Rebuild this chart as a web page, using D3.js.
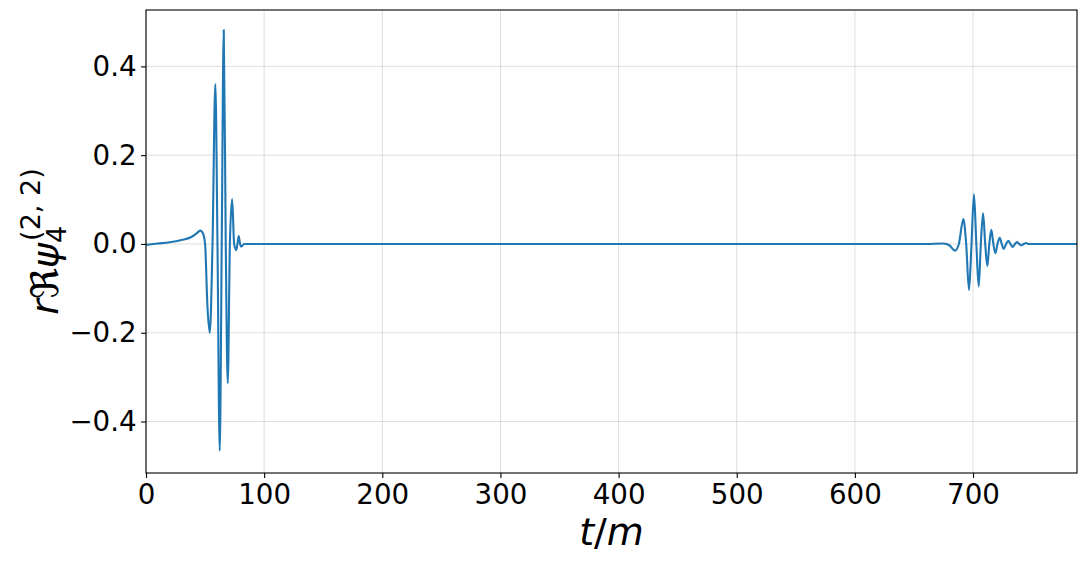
<!DOCTYPE html>
<html><head><meta charset="utf-8">
<script src="https://cdn.jsdelivr.net/npm/d3@7"></script>
<style>body{margin:0;background:#fff}svg{display:block}text{font-family:"DejaVu Sans",sans-serif}</style>
</head><body>
<svg id="c" width="1086" height="563"></svg>
<script>
// Data: t/m samples and r Re psi4 (2,2) values
const tValues = [0,10,20,30,38,42,46,48,50,52,54,56.3,58.7,60.5,62.4,64.1,65.8,67.5,69.2,71.0,72.9,74.6,76.3,77.4,78.5,79.6,80.8,83,
  660,675,680,684.7,688,691.8,694.2,696.6,698.7,700.8,702.8,704.8,706.6,708.5,710.3,712.1,713.8,715.5,717.2,718.9,720.7,722.6,724.3,726,728,729.9,731.7,733.6,735.5,737.3,739,740.7,742.8,744.9,747,788];
const psiValues = [-0.002,0.001,0.004,0.009,0.015,0.022,0.030,0.025,0.0,-0.14,-0.200,0,0.36,0,-0.466,0,0.482,0,-0.314,0,0.101,0,-0.014,0,0.018,0,-0.006,0,
  0,0.001,-0.003,-0.015,0,0.056,0,-0.104,0,0.112,0,-0.096,0,0.069,0,-0.050,0,0.032,0,-0.021,0,0.014,0,-0.011,0,0.007,0,-0.007,0,0.004,0,-0.003,0,0.002,0,0];
const xTicks = [0,100,200,300,400,500,600,700];
const yTicks = [-0.4,-0.2,0.0,0.2,0.4];
const xDomain = [0, 788];
const yDomain = [-0.516, 0.527];

const svg = d3.select("#c");
const L = 146, R = 1077, T = 10, B = 473;
const x = d3.scaleLinear().domain(xDomain).range([L, R]);
const y = d3.scaleLinear().domain(yDomain).range([B, T]);

// grid
const g = svg.append("g");
g.selectAll(".gx").data(xTicks).join("line")
  .attr("x1", d => x(d)).attr("x2", d => x(d)).attr("y1", T).attr("y2", B)
  .attr("stroke", "#b0b0b0").attr("stroke-opacity", 0.5).attr("stroke-width", 0.8);
g.selectAll(".gy").data(yTicks).join("line")
  .attr("x1", L).attr("x2", R).attr("y1", d => y(d)).attr("y2", d => y(d))
  .attr("stroke", "#b0b0b0").attr("stroke-opacity", 0.5).attr("stroke-width", 0.8);

// line
const pts = tValues.map((t, i) => [t, psiValues[i]]);
svg.append("path").datum(pts)
  .attr("fill", "none").attr("stroke", "#1f77b4").attr("stroke-width", 2.1)
  .attr("stroke-linejoin", "round")
  .attr("d", d3.line().x(d => x(d[0])).y(d => y(d[1])).curve(d3.curveMonotoneX));

// axes
const fmt = d => (d < 0 ? "\u2212" : "") + Math.abs(d).toFixed(1);
const xa = svg.append("g").attr("transform", `translate(0,${B})`)
  .call(d3.axisBottom(x).tickValues(xTicks).tickSize(4.9).tickPadding(4.5).tickFormat(d3.format("d")));
const ya = svg.append("g").attr("transform", `translate(${L},0)`)
  .call(d3.axisLeft(y).tickValues(yTicks).tickSize(4.9).tickPadding(4.5).tickFormat(fmt));
[xa, ya].forEach(a => {
  a.select(".domain").remove();
  a.selectAll("line").attr("stroke", "#000").attr("stroke-width", 1.1);
  a.selectAll("text").attr("font-size", 27.7).attr("font-family", "DejaVu Sans").attr("fill", "#000");
});
xa.selectAll("text").attr("dy", "0.78em");

// frame
svg.append("rect").attr("x", L).attr("y", T).attr("width", R - L).attr("height", B - T)
  .attr("fill", "none").attr("stroke", "#000").attr("stroke-width", 1.1);

// x label
const xl = svg.append("text").attr("x", (L + R) / 2).attr("y", 545).attr("text-anchor", "middle")
  .attr("font-size", 38);
xl.append("tspan").attr("font-style", "italic").text("t");
xl.append("tspan").text("/");
xl.append("tspan").attr("font-style", "italic").text("m");

// y label
const yl = svg.append("text").attr("transform", `translate(58,${(T + B) / 2}) rotate(-90)`)
  .attr("text-anchor", "middle").attr("font-size", 38);
yl.append("tspan").attr("font-style", "italic").text("r");
yl.append("tspan").text("\u211C");
yl.append("tspan").attr("font-style", "italic").text("\u03C8");
yl.append("tspan").attr("font-size", 27).attr("dy", 8).text("4");
yl.append("tspan").attr("font-size", 27).attr("dx", -15).attr("dy", -26).text("(2, 2)");
</script>
</body></html>
